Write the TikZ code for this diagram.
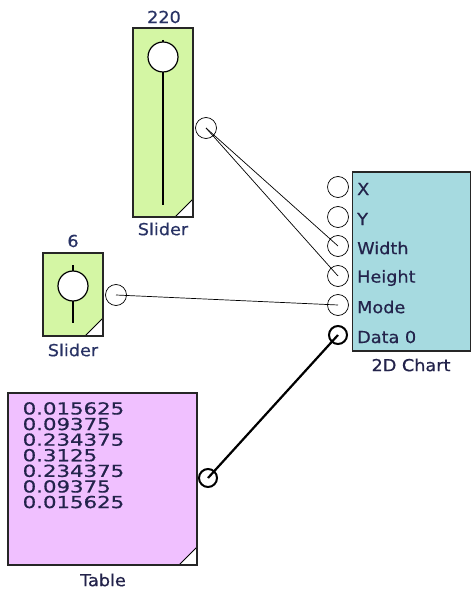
\documentclass[tikz,border=0pt]{standalone}
\usepackage{fontspec}
\setmainfont{DejaVu Sans}[FakeStretch=1.07,FakeBold=0.6]
\newfontfamily\tabfont{DejaVu Sans}[FakeStretch=1.29,FakeBold=0.6]
\definecolor{sliderfill}{RGB}{212,246,164}
\definecolor{chartfill}{RGB}{166,218,224}
\definecolor{tablefill}{RGB}{240,192,255}
\definecolor{txt}{RGB}{35,35,75}
\definecolor{valtxt}{RGB}{40,50,100}
\begin{document}
\begin{tikzpicture}[x=1pt,y=-1pt,
  boxfill/.style={anchor=north west, inner sep=0, outer sep=0},
  boxline/.style={draw=black!85, line width=1.2pt},
  knob/.style={circle, draw, fill=white, line width=1.2pt, minimum size=30pt, inner sep=0},
  knobline/.style={line width=1.3pt},
  port/.style={circle, draw, line width=0.7pt, minimum size=21pt, inner sep=0},
  bigport/.style={circle, draw, line width=2pt, minimum size=18pt, inner sep=0},
  wire/.style={line width=0.7pt},
  thickwire/.style={line width=2.2pt},
  lbl/.style={font=\fontsize{16.5}{17}\selectfont, text=txt, inner sep=0},
  vlbl/.style={font=\fontsize{16.5}{17}\selectfont, text=valtxt, inner sep=0}]
\useasboundingbox (0,0) rectangle (471,593);
\clip (0,0) rectangle (471,593);

% ---------- Slider 1 ----------
\node[boxfill, fill=sliderfill, minimum width=60pt, minimum height=189pt] (s1) at (133,28) {};
\fill[white] (s1.south east) -- ++(-18,0) -- ++(18,-18) -- cycle;
\draw[line width=0.8pt] (s1.south east) ++(-18,0) -- ++(18,-18);
\draw[boxline] (s1.north west) rectangle (s1.south east);
\coordinate (s1top) at (163,40);
\coordinate (s1bot) at (163,205);
\draw[knobline] (s1top) -- (s1bot);
\node[knob] (k1) at (163,57) {};
\node[vlbl] (v1) at (164,17) {220};
\node[vlbl] (n1) at (163,229) {Slider};

% ---------- Slider 2 ----------
\node[boxfill, fill=sliderfill, minimum width=60pt, minimum height=83pt] (s2) at (43,253) {};
\fill[white] (s2.south east) -- ++(-18,0) -- ++(18,-18) -- cycle;
\draw[line width=0.8pt] (s2.south east) ++(-18,0) -- ++(18,-18);
\draw[boxline] (s2.north west) rectangle (s2.south east);
\coordinate (s2top) at (73,265);
\coordinate (s2bot) at (73,323);
\draw[knobline] (s2top) -- (s2bot);
\node[knob] (k2) at (73,286) {};
\node[vlbl] (v2) at (73,241) {6};
\node[vlbl] (n2) at (73,350) {Slider};

% ---------- 2D Chart ----------
\node[boxfill, fill=chartfill, minimum width=118pt, minimum height=179pt] (ch) at (352.5,172) {};
\draw[boxline] (ch.north west) rectangle (ch.south east);
\node[lbl] (nch) at (411,365) {2D Chart};

% ---------- Table ----------
\node[boxfill, fill=tablefill, minimum width=189pt, minimum height=172pt] (tb) at (8,393) {};
\fill[white] (tb.south east) -- ++(-18,0) -- ++(18,-18) -- cycle;
\draw[line width=0.8pt] (tb.south east) ++(-18,0) -- ++(18,-18);
\draw[boxline] (tb.north west) rectangle (tb.south east);
\node[anchor=north west, inner sep=0, text=txt, align=left,
      font=\tabfont\fontsize{16.5}{15.6}\selectfont] (tbt) at (22.5,402)
  {0.015625\\0.09375\\0.234375\\0.3125\\0.234375\\0.09375\\0.015625};
\node[lbl] (ntb) at (103,580) {Table};

% ---------- ports ----------
\node[port] (s1o) at (206,128) {};
\node[port] (s2o) at (116,295) {};
\node[bigport] (tbo) at (208,478) {};
\node[port] (px) at (338,187) {};
\node[port] (py) at (338,217) {};
\node[port] (pw) at (338,246) {};
\node[port] (ph) at (338,276) {};
\node[port] (pm) at (338,305) {};
\node[bigport] (pd) at (338,335) {};

\node[lbl, anchor=west] (lx) at (357,189) {X};
\node[lbl, anchor=west] (ly) at (357,219) {Y};
\node[lbl, anchor=west] (lw) at (357,248) {Width};
\node[lbl, anchor=west] (lh) at (357,278) {Height};
\node[lbl, anchor=west] (lm) at (357,307) {Mode};
\node[lbl, anchor=west] (ld) at (357,337) {Data 0};

% ---------- wires ----------
\draw[wire] (s1o.center) -- (pw.center);
\draw[wire] (s1o.center) -- (ph.center);
\draw[wire] (s2o.center) -- (pm.center);
\draw[thickwire] (tbo.center) -- (pd.center);
\end{tikzpicture}
\end{document}
